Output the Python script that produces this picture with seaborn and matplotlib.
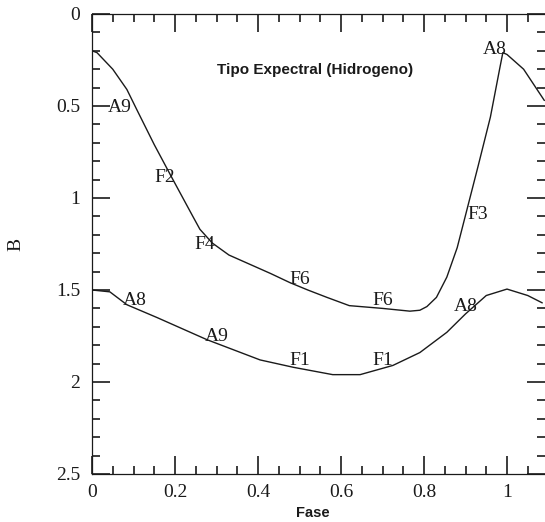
import matplotlib
matplotlib.use("Agg")
import matplotlib.pyplot as plt
from matplotlib.ticker import MultipleLocator
import numpy as np
import pandas as pd
import seaborn as sns

# Light curve in B (upper) and hydrogen spectral-type curve (lower) versus phase
fase_b = [0.00, 0.012, 0.05, 0.084, 0.108, 0.15, 0.195, 0.243, 0.26, 0.29, 0.33,
          0.38, 0.43, 0.477, 0.52, 0.566, 0.62, 0.70, 0.766, 0.79, 0.807, 0.83,
          0.855, 0.88, 0.905, 0.93, 0.96, 0.983, 0.99, 1.00, 1.04, 1.09]
mag_b = [0.20, 0.21, 0.30, 0.41, 0.52, 0.71, 0.90, 1.10, 1.17, 1.245, 1.31,
         1.36, 1.41, 1.46, 1.50, 1.54, 1.585, 1.60, 1.615, 1.61, 1.59, 1.54,
         1.43, 1.27, 1.05, 0.83, 0.56, 0.29, 0.21, 0.22, 0.30, 0.47]

fase_h = [0.00, 0.043, 0.084, 0.157, 0.277, 0.405, 0.485, 0.58, 0.646, 0.725,
          0.79, 0.855, 0.90, 0.95, 1.00, 1.05, 1.085]
mag_h = [1.50, 1.51, 1.58, 1.65, 1.77, 1.88, 1.92, 1.96, 1.96, 1.91,
         1.84, 1.73, 1.63, 1.53, 1.495, 1.53, 1.57]

# Spectral-type labels along each curve
tipos_b = ["A9", "F2", "F4", "F6", "F6", "F3", "A8"]
tipos_b_x = [0.067, 0.176, 0.272, 0.50, 0.70, 0.93, 0.97]
tipos_b_y = [0.51, 0.89, 1.255, 1.445, 1.555, 1.09, 0.195]

tipos_h = ["A8", "A9", "F1", "F1", "A8"]
tipos_h_x = [0.104, 0.30, 0.50, 0.70, 0.90]
tipos_h_y = [1.555, 1.755, 1.885, 1.885, 1.59]

x_ticks = [0, 0.2, 0.4, 0.6, 0.8, 1]
x_ticklabels = ["0", "0.2", "0.4", "0.6", "0.8", "1"]
y_ticks = [0, 0.5, 1, 1.5, 2, 2.5]
y_ticklabels = ["0", "0.5", "1", "1.5", "2", "2.5"]

sns.set_style("ticks")
plt.rcParams["font.family"] = ["Liberation Serif", "DejaVu Serif"]

df = pd.concat([
    pd.DataFrame({"Fase": fase_b, "B": mag_b, "curva": "B"}),
    pd.DataFrame({"Fase": fase_h, "B": mag_h, "curva": "H"}),
])

ink = "#1a1a1a"
fig = plt.figure(figsize=(5.45, 5.22), dpi=100)
ax = fig.add_axes([92 / 545, 48 / 522, 453 / 545, 460 / 522])

sns.lineplot(data=df, x="Fase", y="B", hue="curva", palette=[ink, ink],
             estimator=None, sort=False, lw=1.0, legend=False, ax=ax)

for t, x, y in zip(tipos_b, tipos_b_x, tipos_b_y):
    ax.text(x, y, t, ha="center", va="center", fontsize=14, color=ink)
for t, x, y in zip(tipos_h, tipos_h_x, tipos_h_y):
    ax.text(x, y, t, ha="center", va="center", fontsize=14, color=ink)

ax.text(0.537, 0.305, "Tipo Expectral (Hidrogeno)", ha="center", va="center",
        fontsize=11, fontweight="bold", family=["Liberation Sans"], color=ink)

ax.set_xlim(0, 453 / 415)
ax.set_ylim(2.5, 0)
ax.set_xticks(x_ticks)
ax.set_xticklabels(x_ticklabels)
ax.set_yticks(y_ticks)
ax.set_yticklabels(y_ticklabels)
ax.xaxis.set_minor_locator(MultipleLocator(0.05))
ax.yaxis.set_minor_locator(MultipleLocator(0.1))
ax.tick_params(which="both", direction="in", top=True, right=True,
               color=ink, labelcolor=ink, labelsize=14)
ax.tick_params(which="major", length=13, width=1.2)
ax.tick_params(which="minor", length=5.5, width=1.2)
ax.tick_params(axis="y", which="major", pad=8.5)
ax.tick_params(axis="x", which="major", pad=7)

for side in ["left", "bottom", "top"]:
    ax.spines[side].set_linewidth(0.9)
    ax.spines[side].set_color(ink)
ax.spines["right"].set_visible(False)

ax.set_ylabel("B", fontsize=14, color=ink)
ax.yaxis.set_label_coords(-68 / 453, 0.5)
ax.set_xlabel("Fase", fontsize=10.5, fontweight="bold",
              family=["Liberation Sans"], color=ink)
ax.xaxis.set_label_coords((313 - 92) / 453, -32 / 460)

fig.savefig("out.png", dpi=100, facecolor="white")
